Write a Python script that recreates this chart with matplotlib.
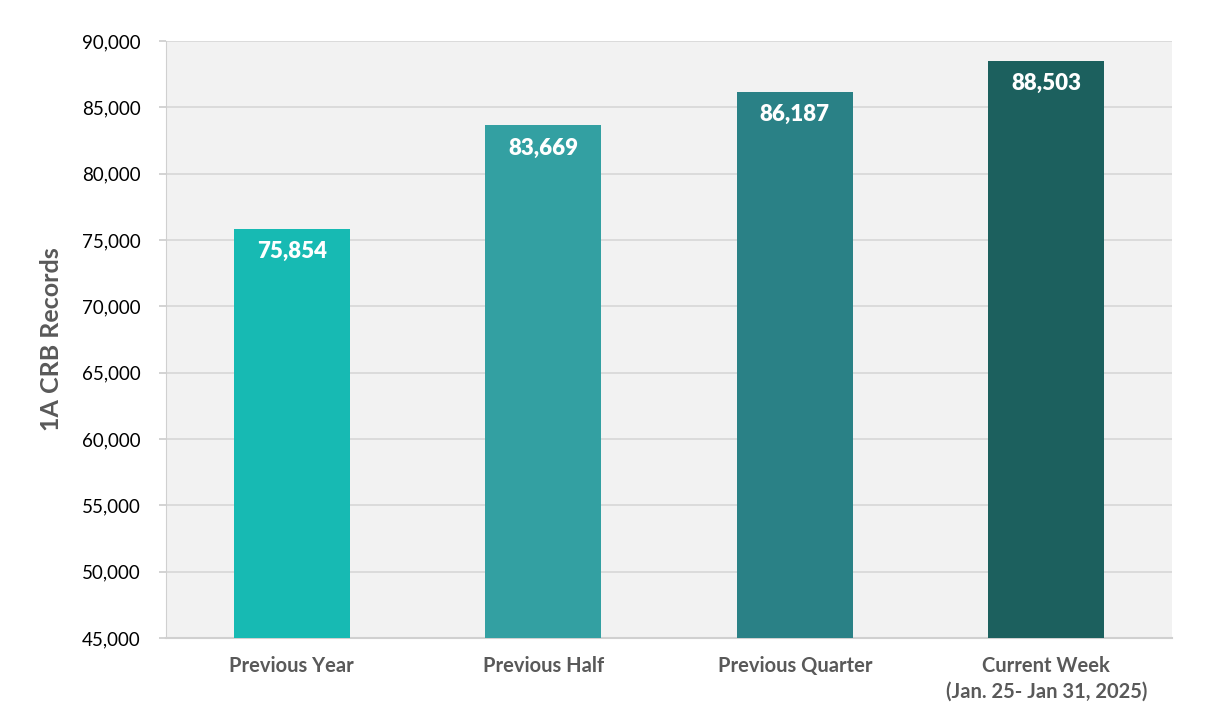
import matplotlib
matplotlib.use("Agg")
import matplotlib.pyplot as plt
from matplotlib.ticker import FuncFormatter

categories = ["Previous Year", "Previous Half", "Previous Quarter", "Current Week\n(Jan. 25- Jan 31, 2025)"]
values = [75854, 83669, 86187, 88503]
colors = ["#17BAB3", "#33A0A2", "#2A8186", "#1C605E"]
yticks = [45000, 50000, 55000, 60000, 65000, 70000, 75000, 80000, 85000, 90000]

plt.rcParams['font.family'] = ['Lato', 'DejaVu Sans']

fig = plt.figure(figsize=(12.06, 7.25), dpi=100)
ax = fig.add_axes([166/1206, 1-638/725, (1172-166)/1206, (638-41)/725])
ax.set_facecolor("#F2F2F2")

x = list(range(len(categories)))
bars = ax.bar(x, values, width=0.46, color=colors, zorder=3)
ax.set_xlim(-0.5, 3.5)
ax.set_ylim(45000, 90000)
ax.set_yticks(yticks)
ax.yaxis.set_major_formatter(FuncFormatter(lambda v, p: f"{int(v):,}"))
ax.grid(axis='y', color="#D9D9D9", linewidth=1.3, zorder=0)
ax.set_axisbelow(True)

for s in ['top', 'right']:
    ax.spines[s].set_visible(False)
ax.spines['left'].set_color("#D0D0D0")
ax.spines['bottom'].set_color("#D0D0D0")
ax.spines['bottom'].set_linewidth(1.5)

ax.tick_params(axis='y', length=5, color="#D0D0D0", width=1.3, pad=13, labelsize=13.5, labelcolor="black")
ax.tick_params(axis='x', length=0, pad=13)
ax.set_xticks(x)
ax.set_xticklabels(categories, fontsize=14.5, fontweight='bold', color="#595959", linespacing=1.35)

ax.set_ylabel("1A CRB Records", fontsize=18, fontweight='bold', color="#595959", labelpad=14)

for xi, v in zip(x, values):
    ax.annotate(f"{v:,}", (xi, v), xytext=(0, -9), textcoords='offset points',
                ha='center', va='top', color='white', fontsize=16, fontweight='heavy', zorder=4)

fig.savefig("out.png", dpi=100)
